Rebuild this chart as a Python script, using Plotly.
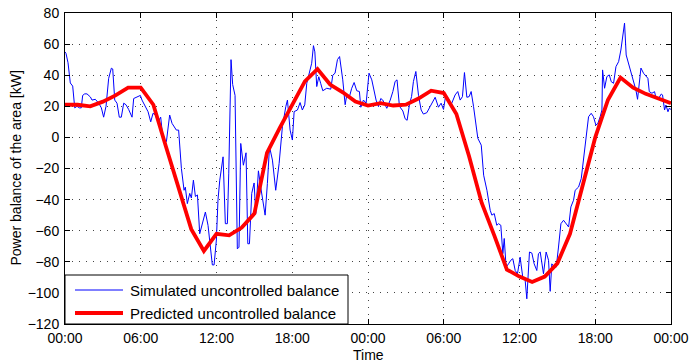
import plotly.graph_objects as go

# Predicted uncontrolled balance (hourly), hours 0..48
red_hours = list(range(49))
red_values = [21, 21, 20, 23, 27, 32, 32, 21, -6, -33, -59, -73, -62, -63, -58, -49,
              -10, 6, 21, 36, 44, 34, 29, 23, 20.5, 22, 20.5, 21, 25, 30, 28.5, 15,
              -12, -42, -63, -85, -89.5, -93, -89.5, -81, -62, -32, 0, 24, 38.5, 32,
              28, 25, 22]

# Simulated uncontrolled balance
blue_hours = [0.0, 0.08, 0.24, 0.42, 0.61, 0.77, 0.95, 1.14, 1.29, 1.40, 1.56, 1.74, 2.01, 2.14,
              2.40, 2.67, 2.88, 3.06, 3.25, 3.46, 3.67, 3.78, 3.94, 4.12, 4.30, 4.46, 4.65, 4.83,
              5.04, 5.31, 5.44, 5.70, 5.97, 6.10, 6.36, 6.58, 6.79, 6.97, 7.16, 7.37, 7.58, 7.77,
              8.03, 8.29, 8.48, 8.82, 9.0, 9.22, 9.43, 9.53, 9.69, 9.88, 10.01, 10.17, 10.33, 10.49,
              10.67, 10.86, 11.12, 11.33, 11.46, 11.67, 11.81, 11.99, 12.12, 12.26, 12.52, 12.70,
              12.86, 12.97, 13.15, 13.28, 13.47, 13.65, 13.78, 13.92, 14.13, 14.34, 14.48, 14.61,
              14.79, 14.98, 15.11, 15.32, 15.50, 15.72, 15.85, 16.03, 16.2, 16.43, 16.69, 16.96,
              17.22, 17.49, 17.62, 17.83, 18.01, 18.15, 18.41, 18.62, 18.80, 18.99, 19.15, 19.41,
              19.54, 19.68, 19.79, 19.94, 20.10, 20.25, 20.42, 20.73, 21.05, 21.21, 21.39, 21.58,
              21.75, 22.0, 22.19, 22.32, 22.53, 22.71, 22.90, 23.11, 23.32, 23.43, 23.64, 23.85,
              23.96, 24.08, 24.30, 24.49, 24.64, 24.83, 25.01, 25.17, 25.36, 25.49, 25.76, 25.97,
              26.15, 26.30, 26.49, 26.76, 26.94, 27.10, 27.30, 27.45, 27.6, 27.79, 28.0, 28.21,
              28.39, 28.66, 28.92, 29.32, 29.58, 29.79, 29.98, 30.16, 30.37, 30.58, 30.9, 31.11,
              31.30, 31.48, 31.64, 31.83, 32.01, 32.17, 32.36, 32.54, 32.70, 32.97, 33.16, 33.42,
              33.68, 33.81, 34.0, 34.2, 34.34, 34.52, 34.68, 34.79, 34.94, 35.13, 35.31, 35.47,
              35.66, 35.84, 36.05, 36.26, 36.45, 36.58, 36.79, 36.98, 37.16, 37.37, 37.50, 37.64,
              37.77, 37.90, 38.11, 38.30, 38.43, 38.56, 38.75, 38.91, 39.09, 39.28, 39.49, 39.70,
              39.89, 40.07, 40.28, 40.41, 40.68, 40.89, 41.07, 41.26, 41.47, 41.68, 41.86, 42.05,
              42.21, 42.39, 42.53, 42.58, 42.74, 42.92, 43.11, 43.27, 43.45, 43.64, 43.85, 44.03,
              44.16, 44.32, 44.45, 44.64, 44.85, 45.03, 45.22, 45.35, 45.48, 45.62, 45.83, 46.01,
              46.17, 46.28, 46.49, 46.70, 46.81, 47.02, 47.23, 47.33, 47.49, 47.60, 47.76, 47.86,
              48.0]
blue_values = [55, 54, 48, 35, 33, 19, 20, 19, 19, 27, 28, 28, 26, 24,
               24.5, 22, 19, 13, 20, 38, 44.5, 44, 24, 22, 13, 13, 22, 21,
               18, 13, 25, 26, 27, 24, 20, 16.5, 10, 15.5, 14.4, 10, 13, -1.7,
               -2.8, 14.4, 9, 4.7, 4.7, -20, -34, -32, -42.6, -36, -39, -27.5, -38, -37,
               -62, -55.5, -48, -56.6, -68, -82, -82, -66, -40, -27.5, -12.5, -55.5,
               -55.5, -23, 50, 34, 27, -71.7, -70.6, -3.9, -17.9, -9.9, -68.4, -68.4,
               -36, -29.3, -49, -21.5, -31.9, -42, -50, -29.7, -6, -14.6, -34, -16.8,
               6.9, 19.8, 24, 4.7, -1.7, 16.6, 17.6, 22.4, 17.6, 20.9, 34.8, 43.4,
               47.7, 59, 55, 32.7, 39, 34.8, 30, 31.6, 31, 40, 41.3, 50,
               52, 37, 21, 27.3, 26.2, 31.6, 35.3, 30, 29.5, 19.4, 24, 22,
               32.7, 41.3, 37, 29.5, 24, 19.8, 25, 24, 20.9, 18.7, 24, 29.5,
               36, 37, 20, 17, 12, 11, 22, 26.2, 36, 42.4, 27, 17.6,
               15, 15.9, 19.8, 25.8, 19.4, 22, 18, 27.3, 25, 20.9, 27.3, 29.5,
               24, 26.2, 41.7, 25.8, 26.2, 29.5, 19.8, 6.9, -0.6, -5, -24.3, -34,
               -46.9, -50, -49, -56.5, -55.5, -56.5, -74.8, -65, -83.4, -81.3, -79, -78,
               -85.6, -87.7, -77, -90, -92, -103.8, -73.7, -74.4, -81.3, -85.6, -74.8, -73.7,
               -81.3, -87.7, -73.7, -79, -99, -81.3, -83.4, -83.4, -70.5, -55.5, -53.3, -55.5,
               -57.6, -44.7, -40.4, -34, -31.9, -26.5, -14.7, -1.8, 13.3, 15.5, 13.3, 7.9,
               9, 13.3, 17.6, 43.4, 31.6, 39.1, 40.2, 35.8, 34.8, 45.5, 48.7, 56.2,
               62.7, 73.5, 53, 47.6, 41.2, 34.8, 30.5, 24.5, 34, 44.6, 41.2, 39.1,
               38, 29.4, 28.4, 29.4, 25.1, 25.1, 27.9, 27.3, 17.6, 20.8, 16.5, 18.7,
               18]

x_tickvals = [0, 6, 12, 18, 24, 30, 36, 42, 48]
x_ticktext = ["00:00", "06:00", "12:00", "18:00", "00:00", "06:00", "12:00", "18:00", "00:00"]
y_tickvals = [-120, -100, -80, -60, -40, -20, 0, 20, 40, 60, 80]

series_names = ["Simulated uncontrolled balance", "Predicted uncontrolled balance"]
series_colors = ["#0000FF", "#FF0000"]
series_widths = [1, 3.8]

FONT = "Liberation Sans, Arial, Helvetica, sans-serif"

fig = go.Figure()
fig.add_trace(go.Scatter(x=blue_hours, y=blue_values, mode="lines",
                         name=series_names[0], showlegend=False,
                         line=dict(color=series_colors[0], width=series_widths[0])))
fig.add_trace(go.Scatter(x=red_hours, y=red_values, mode="lines",
                         name=series_names[1], showlegend=False,
                         line=dict(color=series_colors[1], width=series_widths[1])))

axis_common = dict(showline=True, linecolor="black", linewidth=1, mirror="ticks",
                   ticks="inside", ticklen=5, tickcolor="black", tickwidth=1,
                   showgrid=True, gridcolor="#444444", gridwidth=1, griddash="1px,6px",
                   zeroline=False, automargin=False,
                   tickfont=dict(family=FONT, size=14, color="black"))

fig.update_xaxes(range=[0, 48], tickvals=x_tickvals, ticktext=x_ticktext,
                 ticklabelstandoff=1, **axis_common)
fig.update_yaxes(range=[-120, 80], tickvals=y_tickvals,
                 ticklabelstandoff=2, **axis_common)

# Legend box (MATLAB style), drawn in the plot-area paper frame
PLOT_W, PLOT_H = 606.0, 311.0
box_right = 283 / PLOT_W
box_top = 49 / PLOT_H
shapes = [dict(type="rect", xref="paper", yref="paper", x0=0, y0=0, x1=box_right, y1=box_top,
               line=dict(color="black", width=1), fillcolor="white", layer="above")]
annotations = []
row_y = [34 / PLOT_H, 11 / PLOT_H]
for name, col, w, ry in zip(series_names, series_colors, series_widths, row_y):
    shapes.append(dict(type="line", xref="paper", yref="paper",
                       x0=10 / PLOT_W, x1=58 / PLOT_W, y0=ry, y1=ry,
                       line=dict(color=col, width=w), layer="above"))
    annotations.append(dict(xref="paper", yref="paper", x=63 / PLOT_W, y=ry,
                            xanchor="left", yanchor="middle", showarrow=False,
                            text=name, font=dict(family=FONT, size=15, color="black")))

# axis titles
annotations.append(dict(xref="paper", yref="paper", x=0.5, y=-31 / PLOT_H,
                        xanchor="center", yanchor="middle", showarrow=False,
                        text="Time", font=dict(family=FONT, size=14, color="black")))
annotations.append(dict(xref="paper", yref="paper", x=-50 / PLOT_W, y=0.5,
                        xanchor="center", yanchor="middle", showarrow=False, textangle=-90,
                        text="Power balance of the area [kW]",
                        font=dict(family=FONT, size=14, color="black")))

fig.update_layout(
    width=691, height=364,
    margin=dict(l=65, r=20, t=13, b=40),
    paper_bgcolor="white", plot_bgcolor="white",
    font=dict(family=FONT, size=14, color="black"),
    showlegend=False,
    shapes=shapes, annotations=annotations,
)

fig.write_html("out.html")
